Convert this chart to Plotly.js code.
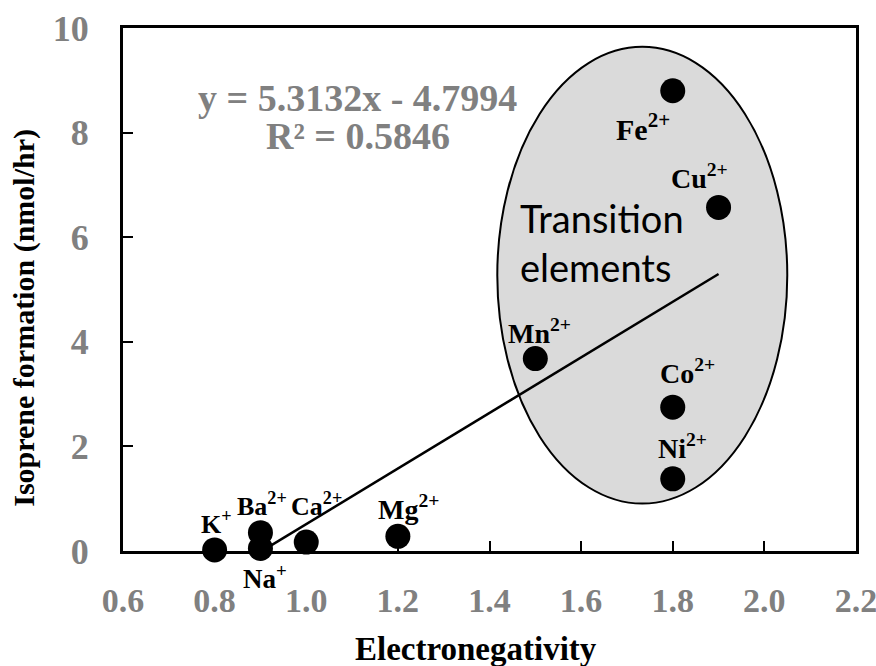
<!DOCTYPE html>
<html>
<head>
<meta charset="utf-8">
<script src="https://cdn.plot.ly/plotly-3.0.1.min.js"></script>
<style>html,body{margin:0;padding:0;background:#fff;}#chart{width:876px;height:666px;}</style>
</head>
<body>
<div id="chart"></div>
<script>
// Data
const ions = ["K<sup>+</sup>", "Na<sup>+</sup>", "Ba<sup>2+</sup>", "Ca<sup>2+</sup>", "Mg<sup>2+</sup>",
              "Mn<sup>2+</sup>", "Co<sup>2+</sup>", "Ni<sup>2+</sup>", "Fe<sup>2+</sup>", "Cu<sup>2+</sup>"];
const electronegativity = [0.8, 0.9, 0.9, 1.0, 1.2, 1.5, 1.8, 1.8, 1.8, 1.9];
const isoprene = [0.02, 0.05, 0.35, 0.17, 0.28, 3.68, 2.75, 1.38, 8.80, 6.57];
const trendSlope = 5.3132;
const trendIntercept = -4.7994;
const trendR2 = 0.5846;
const trendXRange = [0.9, 1.9];
const xTicks = [0.6, 0.8, 1.0, 1.2, 1.4, 1.6, 1.8, 2.0, 2.2];
const xTickLabels = ["0.6", "0.8", "1.0", "1.2", "1.4", "1.6", "1.8", "2.0", "2.2"];
const yTicks = [0, 2, 4, 6, 8, 10];
const yTickLabels = ["0", "2", "4", "6", "8", "10"];
const xTitle = "Electronegativity";
const yTitle = "Isoprene formation (nmol/hr)";
const groupLabel = "Transition<br>elements";

// Label offsets (pixels) relative to each point
const labelDx = [2, 5, 2, 10, 11, 4, 15, 10, -30, -19];
const labelDy = [27, -29, 28, 38, 29, 27, 36, 32, -36, 31];
const labelSize = [26, 27, 26, 26, 28, 28, 28, 28, 30, 28];

const trendX = trendXRange.slice();
const trendY = trendX.map(v => trendSlope * v + trendIntercept);

const serif = "Liberation Serif, Times New Roman, serif";
const bold = s => "<b>" + s + "</b>";

const traces = [
  {
    x: trendX, y: trendY, type: "scatter", mode: "lines",
    line: {color: "#000", width: 2.5}, hoverinfo: "skip", showlegend: false
  },
  {
    x: electronegativity, y: isoprene, type: "scatter", mode: "markers",
    marker: {color: "#000", size: 25}, showlegend: false, cliponaxis: false
  }
];

const annotations = ions.map((t, i) => ({
  x: electronegativity[i], y: isoprene[i], xref: "x", yref: "y",
  text: bold(t), showarrow: false,
  xshift: labelDx[i], yshift: labelDy[i],
  font: {family: serif, size: labelSize[i], color: "#000"}
}));

annotations.push({
  xref: "paper", yref: "paper", x: 0.32, y: 0.866, xanchor: "center", yanchor: "middle",
  text: bold("y = " + trendSlope.toFixed(4) + "x - " + Math.abs(trendIntercept).toFixed(4)),
  showarrow: false, font: {family: serif, size: 38, color: "#808080"}
});
annotations.push({
  xref: "paper", yref: "paper", x: 0.32, y: 0.793, xanchor: "center", yanchor: "middle",
  text: bold("R² = " + trendR2.toFixed(4)),
  showarrow: false, font: {family: serif, size: 38, color: "#808080"}
});
annotations.push({
  xref: "x", yref: "y", x: 1.462, y: 5.89, xanchor: "left", yanchor: "middle", align: "left",
  text: groupLabel, showarrow: false,
  font: {family: "Lato, Noto Sans, sans-serif", size: 38, color: "#000"}
});
annotations.push({
  xref: "paper", yref: "paper", x: 0.482, y: -0.188, xanchor: "center", yanchor: "middle",
  text: bold(xTitle), showarrow: false,
  font: {family: serif, size: 33, color: "#000"}
});
annotations.push({
  xref: "paper", yref: "paper", x: -0.135, y: 0.446, xanchor: "center", yanchor: "middle",
  text: bold(yTitle), showarrow: false, textangle: -90,
  font: {family: serif, size: 30, color: "#000"}
});

const layout = {
  width: 876, height: 666,
  margin: {l: 122.5, r: 20, t: 28, b: 114.5},
  paper_bgcolor: "#fff", plot_bgcolor: "#fff",
  showlegend: false,
  xaxis: {
    range: [0.6, 2.2000001], tickvals: xTicks, ticktext: xTickLabels.map(bold),
    ticks: "inside", ticklen: 10, tickwidth: 2, tickcolor: "#000",
    showline: true, linewidth: 3, linecolor: "#000", mirror: true,
    showgrid: false, zeroline: false, ticklabelstandoff: 17, ticklabeloverflow: "allow",
    tickfont: {family: serif, size: 34, color: "#808080", weight: 700},
    automargin: false
  },
  yaxis: {
    range: [0, 10], tickvals: yTicks, ticktext: yTickLabels.map(bold),
    ticks: "inside", ticklen: 10, tickwidth: 2, tickcolor: "#000",
    showline: true, linewidth: 3, linecolor: "#000", mirror: true,
    showgrid: false, zeroline: false, ticklabelstandoff: 24, ticklabeloverflow: "allow",
    tickfont: {family: serif, size: 36, color: "#808080", weight: 700},
    automargin: false
  },
  shapes: [{
    type: "circle", xref: "x", yref: "y", layer: "below",
    x0: 1.417, x1: 2.050, y0: 0.907, y1: 9.64,
    fillcolor: "#dadada", line: {color: "#000", width: 2}
  }],
  annotations: annotations
};

Plotly.newPlot("chart", traces, layout, {staticPlot: true, displayModeBar: false});
</script>
</body>
</html>
